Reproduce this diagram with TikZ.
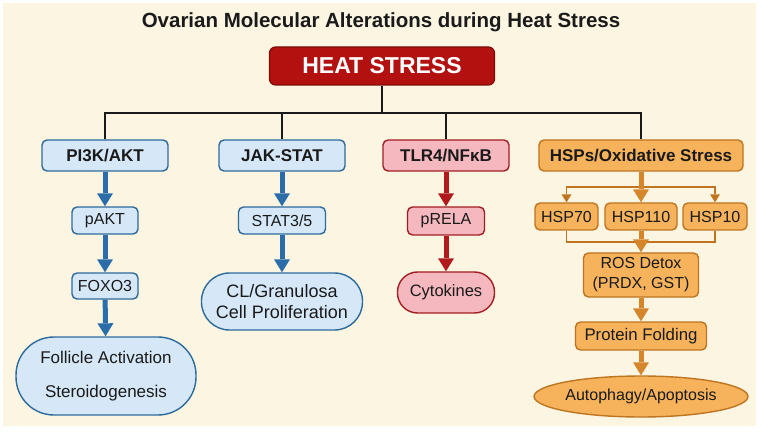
\documentclass[tikz,border=0pt]{standalone}
\usepackage{fontspec}
\setmainfont{Liberation Sans}
\usetikzlibrary{arrows.meta,shapes.geometric}
\definecolor{cream}{HTML}{FBF5E2}
\definecolor{hred}{HTML}{B3110F}
\definecolor{hredd}{HTML}{7E0B0A}
\definecolor{bfill}{HTML}{D6E8F7}
\definecolor{bline}{HTML}{2D6A9C}
\definecolor{barr}{HTML}{2A6DA8}
\definecolor{pfill}{HTML}{F4B8BE}
\definecolor{pline}{HTML}{A11E24}
\definecolor{parr}{HTML}{B01A1C}
\definecolor{ofill}{HTML}{F6B35C}
\definecolor{oline}{HTML}{BF7420}
\definecolor{oarr}{HTML}{D5852A}
\definecolor{ink}{HTML}{1A1A1A}
\tikzset{
  box/.style={rectangle, rounded corners=5pt, line width=1.4pt, inner sep=0pt, align=center, text=ink, font=\fontsize{16}{20}\selectfont},
  hbox/.style={box, font=\fontsize{17}{20}\selectfont\bfseries},
  blue/.style={fill=bfill, draw=bline},
  pink/.style={fill=pfill, draw=pline},
  orng/.style={fill=ofill, draw=oline},
  bigarr/.style={line width=5pt, -{Triangle[width=16pt,length=13pt,line width=0pt]}},
  thinarr/.style={draw=oline, line width=1.6pt, -{Triangle[width=10pt,length=8pt,line width=0pt]}},
  busline/.style={draw=ink, line width=1.4pt},
}
\begin{document}
\begin{tikzpicture}[x=1pt,y=-1pt]
\useasboundingbox (0,0) rectangle (762,435);
\fill[white] (0,0) rectangle (762,435);
\fill[cream] (3,3) rectangle (756,426);

\node[font=\fontsize{20.5}{24}\selectfont\bfseries, text=ink] (title) at (381,22) {Ovarian Molecular Alterations during Heat Stress};

\node[rectangle, rounded corners=6pt, fill=hred, draw=hredd, line width=1.2pt, minimum width=225pt, minimum height=38pt, inner sep=0pt, text=white, font=\fontsize{23}{26}\selectfont\bfseries] (heat) at (382,66) {HEAT STRESS};

% branch heads
\node[hbox, blue, minimum width=126pt, minimum height=31pt] (pi3k) at (105,155.5) {PI3K/AKT};
\node[hbox, blue, minimum width=126pt, minimum height=31pt] (jak) at (282,155.5) {JAK-STAT};
\node[hbox, pink, minimum width=126pt, minimum height=31pt] (tlr) at (446,155.5) {TLR4/NFκB};
\node[hbox, orng, minimum width=204pt, minimum height=31pt] (hsp) at (641,155.5) {HSPs/Oxidative Stress};

% bus
\coordinate (bus) at (0,113);
\draw[busline] (heat.south) -- (heat.south |- bus);
\draw[busline] (pi3k.north) -- (pi3k.north |- bus) -- (hsp.north |- bus) -- (hsp.north);
\draw[busline] (jak.north) -- (jak.north |- bus);
\draw[busline] (tlr.north) -- (tlr.north |- bus);

% PI3K column
\node[box, blue, minimum width=66pt, minimum height=27pt] (pakt) at (105,220.5) {pAKT};
\node[box, blue, minimum width=66pt, minimum height=26pt] (foxo) at (105,286) {FOXO3};
\node[box, blue, rounded corners=38pt, minimum width=180pt, minimum height=78pt, font=\fontsize{17}{20}\selectfont] (foll) at (106,376) {Follicle Activation\\[14pt]Steroidogenesis};

% JAK column
\node[box, blue, minimum width=87pt, minimum height=27pt] (stat) at (282,220.5) {STAT3/5};
\node[box, blue, rounded corners=28pt, minimum width=161pt, minimum height=57pt, font=\fontsize{18}{20.5}\selectfont] (cl) at (282,301.5) {CL/Granulosa\\Cell Proliferation};

% TLR column
\node[box, pink, minimum width=77pt, minimum height=28pt] (prela) at (446,221) {pRELA};
\node[box, pink, rounded corners=20pt, minimum width=97pt, minimum height=41pt, font=\fontsize{16.5}{20}\selectfont] (cyto) at (446,292.5) {Cytokines};

% HSP column
\node[box, orng, minimum width=63pt, minimum height=27pt] (h70) at (566.5,216.5) {HSP70};
\node[box, orng, minimum width=72pt, minimum height=27pt] (h110) at (641,216.5) {HSP110};
\node[box, orng, minimum width=64pt, minimum height=27pt] (h10) at (715,216.5) {HSP10};
\node[box, orng, minimum width=115pt, minimum height=44pt] (ros) at (641,275) {ROS Detox\\(PRDX, GST)};
\node[box, orng, minimum width=131pt, minimum height=28pt, font=\fontsize{16.8}{20}\selectfont] (fold) at (641,336) {Protein Folding};
\node[ellipse, line width=1.4pt, orng, inner sep=0pt, minimum width=201pt, minimum height=41pt, text=ink, font=\fontsize{16}{20}\selectfont] (auto) at (641,396.5) {Autophagy/Apoptosis};

% arrows blue
\draw[bigarr, barr] (pi3k) -- (pakt);
\draw[bigarr, barr] (pakt) -- (foxo);
\draw[bigarr, barr] (foxo) -- (foll);
\draw[bigarr, barr] (jak) -- (stat);
\draw[bigarr, barr] (stat) -- (cl);
% arrows red
\draw[bigarr, parr] (tlr) -- (prela);
\draw[bigarr, parr] (prela) -- (cyto);
% arrows orange
\coordinate (split) at (0,187);
\draw[thinarr] (hsp.south |- split) -| (h70.north);
\draw[thinarr] (hsp.south |- split) -| (h10.north);
\draw[bigarr, oarr] (hsp) -- (h110);
\coordinate (merge) at (0,242);
\draw[draw=oline, line width=1.6pt] (h70.south) |- (h110.south |- merge) -| (h10.south);
\draw[bigarr, oarr] (h110) -- (ros);
\draw[bigarr, oarr] (ros) -- (fold);
\draw[bigarr, oarr] (fold) -- (auto);
\end{tikzpicture}
\end{document}
